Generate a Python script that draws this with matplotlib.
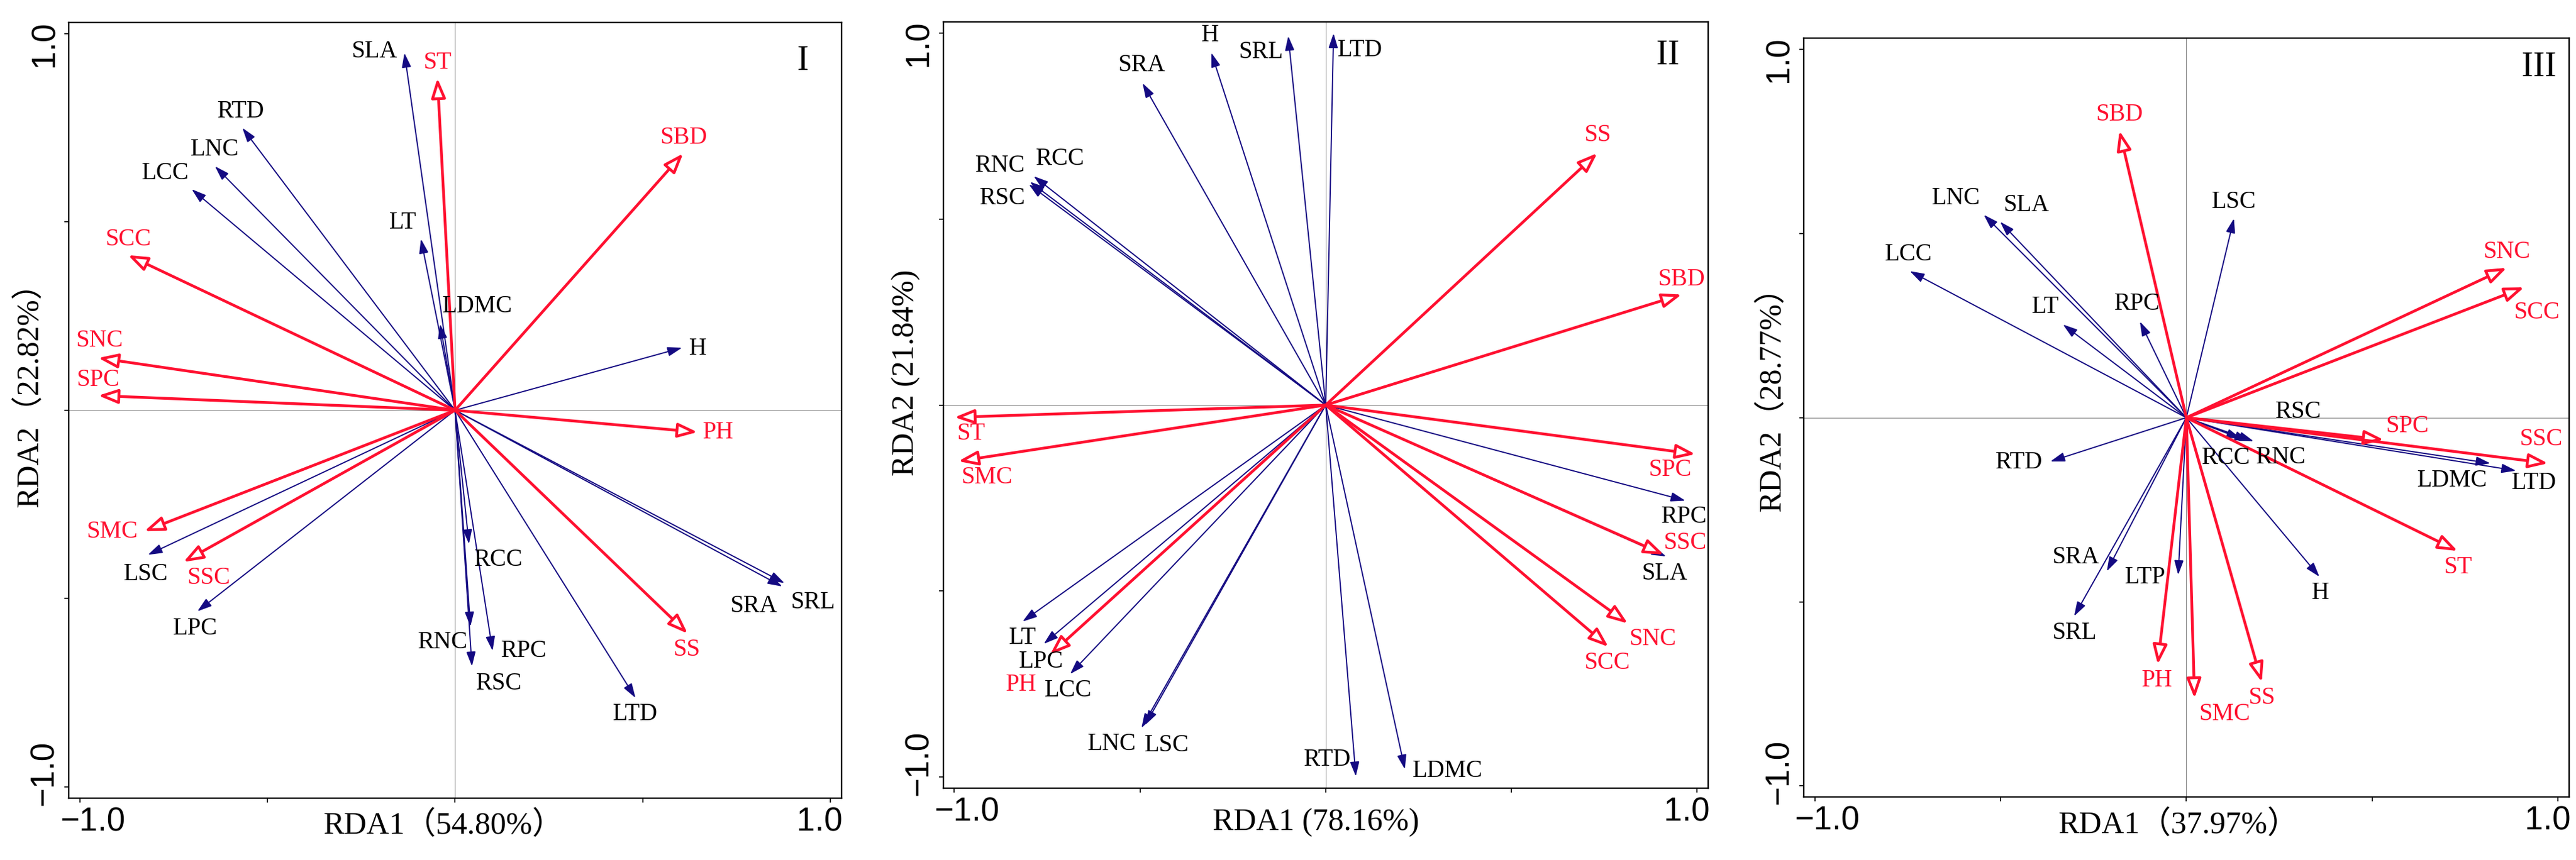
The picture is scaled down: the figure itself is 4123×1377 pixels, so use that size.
import matplotlib.pyplot as plt
from matplotlib.transforms import ScaledTranslation

# ---- panel I : trait arrows (blue) and soil arrows (red)
trait1 = ['SLA', 'RTD', 'LNC', 'LCC', 'LT', 'LDMC', 'H', 'SRA', 'SRL', 'LTD',
          'RCC', 'RNC', 'RPC', 'RSC', 'LPC', 'LSC']
trait1_x = [-0.135, -0.567, -0.640, -0.702, -0.091, -0.040, 0.605, 0.872, 0.878, 0.481,
            0.037, 0.041, 0.100, 0.045, -0.687, -0.819]
trait1_y = [0.949, 0.750, 0.648, 0.587, 0.455, 0.229, 0.166, -0.468, -0.459, -0.764,
            -0.355, -0.574, -0.639, -0.680, -0.534, -0.384]
soil1 = ['ST', 'SBD', 'SCC', 'SNC', 'SPC', 'PH', 'SMC', 'SSC', 'SS']
soil1_x = [-0.047, 0.608, -0.872, -0.951, -0.951, 0.646, -0.828, -0.724, 0.620]
soil1_y = [0.882, 0.682, 0.412, 0.139, 0.039, -0.058, -0.321, -0.403, -0.593]

# ---- panel II
trait2 = ['H', 'SRL', 'LTD', 'SRA', 'RCC', 'RNC', 'RSC', 'RPC', 'SLA', 'LT',
          'LPC', 'LCC', 'LNC', 'LSC', 'RTD', 'LDMC']
trait2_x = [-0.308, -0.101, 0.021, -0.493, -0.786, -0.796, -0.799, 0.968, 0.916, -0.816,
            -0.759, -0.688, -0.496, -0.486, 0.081, 0.213]
trait2_y = [0.947, 0.992, 0.999, 0.865, 0.615, 0.600, 0.593, -0.257, -0.407, -0.582,
            -0.642, -0.723, -0.868, -0.860, -0.998, -0.979]
soil2 = ['SS', 'SBD', 'ST', 'SMC', 'SPC', 'SSC', 'SNC', 'SCC', 'PH']
soil2_x = [0.731, 0.958, -0.999, -0.989, 0.995, 0.910, 0.813, 0.761, -0.742]
soil2_y = [0.677, 0.297, -0.033, -0.151, -0.132, -0.402, -0.587, -0.650, -0.671]

# ---- panel III
trait3 = ['LNC', 'SLA', 'LCC', 'LT', 'RPC', 'LSC', 'RSC', 'RCC', 'RNC', 'LDMC',
          'LTD', 'H', 'RTD', 'SRA', 'LTP', 'SRL']
trait3_x = [-0.545, -0.501, -0.744, -0.332, -0.125, 0.128, 0.181, 0.147, 0.169, 0.818,
            0.887, 0.358, -0.366, -0.214, -0.022, -0.302]
trait3_y = [0.551, 0.532, 0.398, 0.253, 0.261, 0.541, -0.064, -0.057, -0.063, -0.124,
            -0.144, -0.432, -0.119, -0.417, -0.427, -0.539]
soil3 = ['SBD', 'SNC', 'SCC', 'SPC', 'SSC', 'ST', 'PH', 'SMC', 'SS']
soil3_x = [-0.180, 0.862, 0.909, 0.531, 0.973, 0.730, -0.077, 0.022, 0.203]
soil3_y = [0.779, 0.407, 0.354, -0.060, -0.124, -0.362, -0.670, -0.762, -0.718]

xlabels = ['RDA1（54.80%）', 'RDA1 (78.16%)', 'RDA1（37.97%）']
ylabels = ['RDA2（22.82%）', 'RDA2 (21.84%)', 'RDA2（28.77%）']
tags = ['I', 'II', 'III']

# label offsets from arrow tips, in pixels (layout only)
off1 = {'SLA': (-48, 2), 'ST': (0, 25), 'RTD': (-2, 26), 'LNC': (0, 27), 'LCC': (-42, 26),
        'LT': (-29, 26), 'LDMC': (60, 28), 'H': (25, -2), 'SCC': (0, 25), 'SNC': (2, 28),
        'SPC': (0, 25), 'SBD': (1, 25), 'PH': (33, -1), 'SMC': (-52, -1), 'LSC': (-3, -31),
        'SSC': (40, -26), 'LPC': (-3, -28), 'RCC': (47, -26), 'RNC': (-44, -26),
        'RPC': (50, 0), 'RSC': (43, -28), 'SRA': (-46, -31), 'SRL': (46, -31),
        'SS': (-2, -26), 'LTD': (0, -26)}
off2 = {'H': (-2, 28), 'SRL': (-44, -26), 'LTD': (42, -27), 'SRA': (-2, 29),
        'RNC': (-48, 26), 'RCC': (42, 28), 'RSC': (-42, -22), 'SS': (0, 29),
        'SBD': (0, 24), 'ST': (26, -26), 'SMC': (46, -26), 'SPC': (-41, -25),
        'RPC': (-2, -26), 'SSC': (34, 18), 'SLA': (-2, -28), 'SNC': (40, -25),
        'SCC': (-2, -26), 'LT': (0, -26), 'LPC': (-4, -29), 'PH': (-46, -48),
        'LCC': (-3, -26), 'LNC': (-47, -26), 'LSC': (35, -33), 'RTD': (-45, 26),
        'LDMC': (69, -3)}
off3 = {'SBD': (0, 26), 'LNC': (-44, 26), 'SLA': (42, 27), 'LCC': (-2, 27),
        'LT': (-28, 28), 'RPC': (-4, 28), 'LSC': (0, 26), 'SNC': (0, 25),
        'SCC': (20, -40), 'RSC': (72, 47), 'SPC': (38, 22), 'SSC': (-11, 38),
        'RCC': (-24, -31), 'RNC': (51, -27), 'LDMC': (-61, -28), 'LTD': (29, -20),
        'RTD': (-50, -2), 'SRA': (-50, 22), 'LTP': (-53, -4), 'H': (2, -26),
        'ST': (0, -26), 'SRL': (0, -27), 'PH': (-1, -26), 'SMC': (48, -26),
        'SS': (0, -25)}

RED = '#FF1030'
BLUE = '#140A82'
SERIF = ['Liberation Serif', 'Noto Sans CJK SC']

fig = plt.figure(figsize=(41.23, 13.77), dpi=100)
rects = [[0.02668, 0.07204, 0.29996, 0.90181],
         [0.36612, 0.08351, 0.29706, 0.89107],
         [0.70015, 0.07335, 0.29719, 0.88199]]
xl_pos = [(0.485, -0.036), (0.487, -0.045), (0.49, -0.037)]
yl_pos = [(-0.050, 0.53), (-0.049, 0.542), (-0.041, 0.535)]
tag_pos = [(0.950, 0.950), (0.9475, 0.956), (0.9605, 0.962)]

panels = [(trait1, trait1_x, trait1_y, soil1, soil1_x, soil1_y, off1),
          (trait2, trait2_x, trait2_y, soil2, soil2_x, soil2_y, off2),
          (trait3, trait3_x, trait3_y, soil3, soil3_x, soil3_y, off3)]

def shift(dx, dy):
    # pixel shift for tick labels
    return ScaledTranslation(dx / 100, dy / 100, fig.dpi_scale_trans)

for i, (tn, tx, ty, sn, sx, sy, off) in enumerate(panels):
    ax = fig.add_axes(rects[i])
    ax.set_xlim(-1.03, 1.03)
    ax.set_ylim(-1.03, 1.03)
    ax.axhline(0, color='#8a8a8a', lw=0.8, zorder=0)
    ax.axvline(0, color='#8a8a8a', lw=0.8, zorder=0)

    # trait arrows
    for n, x, y in zip(tn, tx, ty):
        ax.annotate('', xy=(x, y), xytext=(0, 0),
                    arrowprops=dict(arrowstyle='-|>,head_length=14,head_width=4.5',
                                    mutation_scale=1, color=BLUE, lw=1.4,
                                    shrinkA=0, shrinkB=0), zorder=2)
        dx, dy = off[n]
        ax.annotate(n, xy=(x, y), xytext=(dx, dy), textcoords='offset pixels',
                    ha='center', va='center', fontsize=28, family=SERIF,
                    color='black', zorder=4)
    # soil arrows
    for n, x, y in zip(sn, sx, sy):
        ax.annotate('', xy=(x, y), xytext=(0, 0),
                    arrowprops=dict(arrowstyle='-|>,head_length=19,head_width=7',
                                    mutation_scale=1, fc='white', ec=RED, lw=3.2,
                                    shrinkA=0, shrinkB=0), zorder=3)
        dx, dy = off[n]
        ax.annotate(n, xy=(x, y), xytext=(dx, dy), textcoords='offset pixels',
                    ha='center', va='center', fontsize=28, family=SERIF,
                    color=RED, zorder=4)

    ax.text(tag_pos[i][0], tag_pos[i][1], tags[i], transform=ax.transAxes,
            ha='center', va='center', fontsize=40, family=SERIF)

    ax.set_xticks([-1, -0.5, 0, 0.5, 1])
    ax.set_xticklabels(['\u22121.0', '', '', '', '1.0'])
    ax.set_yticks([-1, -0.5, 0, 0.5, 1])
    ax.set_yticklabels(['\u22121.0', '', '', '', '1.0'])
    ax.tick_params(direction='out', length=5, width=1.2, labelsize=38, pad=5)
    for sp in ax.spines.values():
        sp.set_linewidth(1.7)

    xt = ax.get_xticklabels()
    yt = ax.get_yticklabels()
    for lab in xt + yt:
        lab.set_family('Liberation Sans')
    for lab in yt:
        lab.set_rotation(90)
        lab.set_va('center')
    xt[0].set_transform(xt[0].get_transform() + shift(20, 0))
    xt[4].set_transform(xt[4].get_transform() + shift(-17, 0))
    yt[0].set_transform(yt[0].get_transform() + shift(0, 22))
    yt[4].set_transform(yt[4].get_transform() + shift(0, -16))

    ax.set_xlabel(xlabels[i], fontsize=36, family=SERIF)
    ax.xaxis.set_label_coords(*xl_pos[i])
    ax.xaxis.label.set_va('center')
    ax.set_ylabel(ylabels[i], fontsize=36, family=SERIF)
    ax.yaxis.set_label_coords(*yl_pos[i])
    ax.yaxis.label.set_va('center')

fig.savefig('out.png', dpi=100)
